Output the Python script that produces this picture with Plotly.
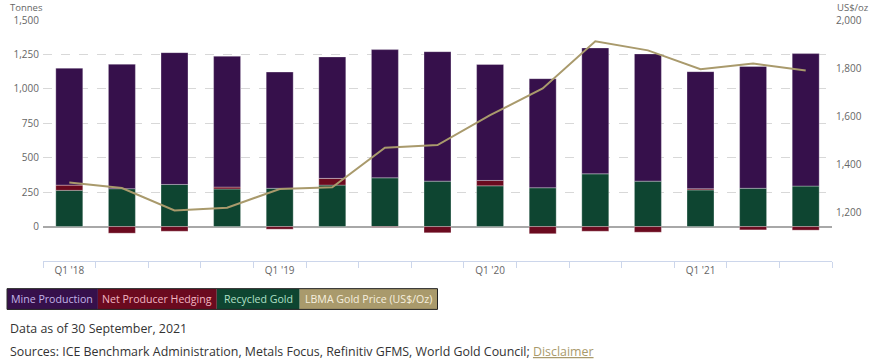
import plotly.graph_objects as go

quarters = ["Q1 '18", "Q2 '18", "Q3 '18", "Q4 '18", "Q1 '19", "Q2 '19", "Q3 '19", "Q4 '19",
            "Q1 '20", "Q2 '20", "Q3 '20", "Q4 '20", "Q1 '21", "Q2 '21", "Q3 '21"]
tick_labels = ["Q1 '18", "", "", "", "Q1 '19", "", "", "", "Q1 '20", "", "", "", "Q1 '21", "", ""]
mine_production = [849, 904, 957, 950, 844, 882, 931, 940, 842, 792, 914, 924, 850, 885, 962]
net_hedging = [38, -48, -34, 14, -19, 49, -5, -45, 39, -52, -34, -41, 9, -24, -26]
recycled_gold = [263, 275, 306, 273, 278, 301, 354, 330, 296, 282, 383, 330, 266, 278, 294]
gold_price = [1326, 1303, 1210, 1221, 1299, 1306, 1470, 1481, 1605, 1716, 1912, 1874, 1796, 1819, 1790]
left_ticks = [0, 250, 500, 750, 1000, 1250, 1500]
right_ticks = [1200, 1400, 1600, 1800, 2000]

PURPLE = "#36104b"
RED = "#6b0a1f"
GREEN = "#0e4531"
TAN = "#a99a6c"
FONT = "Open Sans"

W, H = 874, 364
ML, MR, MT, MB = 43, 41, 17, 103
PW, PH = W - ML - MR, H - MT - MB


def px(x):
    return (x - ML) / PW


def py(y):
    return (H - MB - y) / PH


fig = go.Figure()
fig.add_trace(go.Bar(x=quarters, y=recycled_gold, name="Recycled Gold",
                     marker=dict(color=GREEN, line=dict(color="rgba(255,255,255,0.6)", width=0.5))))
fig.add_trace(go.Bar(x=quarters, y=net_hedging, name="Net Producer Hedging",
                     marker=dict(color=RED, line=dict(color="rgba(255,255,255,0.6)", width=0.5))))
fig.add_trace(go.Bar(x=quarters, y=mine_production, name="Mine Production",
                     marker=dict(color=PURPLE, line=dict(color="rgba(255,255,255,0.6)", width=0.5))))
fig.add_trace(go.Scatter(x=quarters, y=gold_price, name="LBMA Gold Price (US$/Oz)", yaxis="y2",
                         mode="lines", line=dict(color=TAN, width=2)))

fig.update_layout(
    width=W, height=H,
    margin=dict(l=ML, r=MR, t=MT, b=MB),
    paper_bgcolor="white", plot_bgcolor="white",
    barmode="relative", bargap=0.487,
    showlegend=False,
    font=dict(family=FONT, size=10, color="#666666"),
    xaxis=dict(
        type="category", categoryorder="array", categoryarray=quarters,
        tickmode="array", tickvals=quarters, ticktext=tick_labels,
        tickson="boundaries", ticks="outside", ticklen=6, tickcolor="#ccd6eb",
        showline=True, linecolor="#ccd6eb", linewidth=1,
        showgrid=False, tickfont=dict(size=10, color="#666666"),
        range=[-0.5, 14.5],
    ),
    yaxis=dict(
        range=[-250, 1500], tickvals=left_ticks, tickformat=",",
        showgrid=True, gridcolor="#d8d8d8", griddash="dash", gridwidth=1,
        zeroline=True, zerolinecolor="#a8a8a8", zerolinewidth=1.5,
        ticks="", ticklabelstandoff=3, tickfont=dict(size=10, color="#666666"),
    ),
    yaxis2=dict(
        overlaying="y", side="right", range=[1000, 2000], tickvals=right_ticks, tickformat=",",
        showgrid=False, zeroline=False, ticks="", ticklabelstandoff=3,
        tickfont=dict(size=10, color="#666666"),
    ),
)

annotations = [
    dict(text="Tonnes", x=px(8), y=py(4.5), xanchor="left", yanchor="middle",
         font=dict(size=9.5, color="#666666")),
    dict(text="US$/oz", x=px(836), y=py(4.5), xanchor="left", yanchor="middle",
         font=dict(size=9.5, color="#666666")),
    dict(text="Data as of 30 September, 2021", x=px(8), y=py(329), xanchor="left", yanchor="middle",
         font=dict(size=12.4, color="#333333")),
    dict(text="Sources: ICE Benchmark Administration, Metals Focus, Refinitiv GFMS, World Gold Council; "
              "<span style='color:#a99a6c'><u>Disclaimer</u></span>",
         x=px(8), y=py(353), xanchor="left", yanchor="middle",
         font=dict(size=12.4, color="#333333")),
]

legend_items = [
    ("Mine Production", 7, 98, PURPLE, "#c3b4e8"),
    ("Net Producer Hedging", 98, 217, RED, "#f2b6c2"),
    ("Recycled Gold", 217, 300, GREEN, "#b0e0c8"),
    ("LBMA Gold Price (US$/Oz)", 300, 438, TAN, "#f6efdf"),
]
shapes = []
for label, x0, x1, bg, fg in legend_items:
    shapes.append(dict(type="rect", xref="paper", yref="paper", x0=px(x0), x1=px(x1),
                       y0=py(310), y1=py(289), fillcolor=bg, line=dict(width=0), layer="above"))
    annotations.append(dict(text=label, x=px((x0 + x1) / 2), y=py(299.5), xanchor="center",
                            yanchor="middle", font=dict(size=10.6, color=fg, family=FONT)))
shapes.append(dict(type="rect", xref="paper", yref="paper", x0=px(7), x1=px(438),
                   y0=py(310), y1=py(289), line=dict(color="#222222", width=1), layer="above"))

for a in annotations:
    a.setdefault("xref", "paper")
    a.setdefault("yref", "paper")
    a.setdefault("showarrow", False)

fig.update_layout(annotations=annotations, shapes=shapes)
fig.write_html("out.html",
               config={"displayModeBar": False},
               post_script="document.body.style.margin='0';document.body.style.padding='0';"
                           "document.body.style.overflow='hidden';")
